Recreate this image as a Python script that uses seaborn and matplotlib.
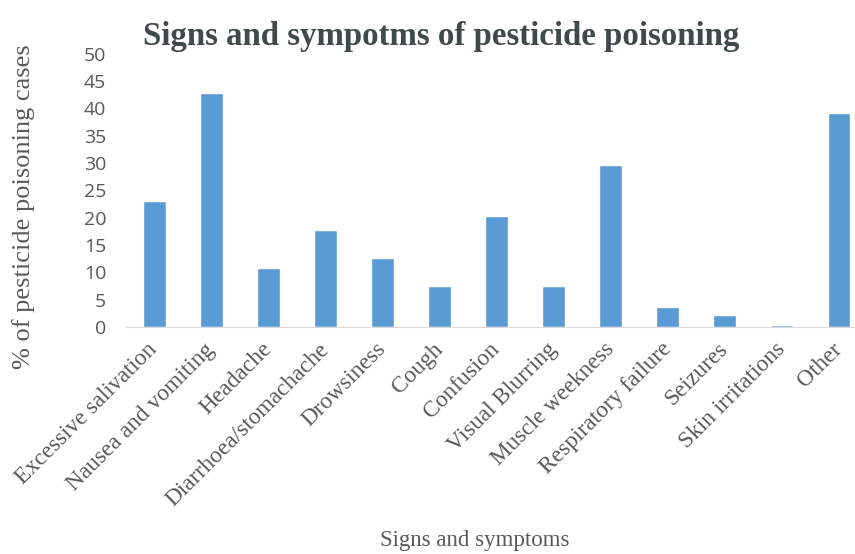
import matplotlib
matplotlib.use("Agg")
import matplotlib.pyplot as plt
import seaborn as sns
import pandas as pd

# Werte
symptoms = ["Excessive salivation", "Nausea and vomiting", "Headache",
            "Diarrhoea/stomachache", "Drowsiness", "Cough", "Confusion",
            "Visual Blurring", "Muscle weekness", "Respiratory failure",
            "Seizures", "Skin irritations", "Other"]
percent = [23.0, 42.8, 10.8, 17.8, 12.6, 7.4, 20.3, 7.4, 29.7, 3.7, 2.2, 0.4, 39.1]
yticks = [0, 5, 10, 15, 20, 25, 30, 35, 40, 45, 50]

df = pd.DataFrame({"symptom": symptoms, "percent": percent})

sns.set_style("white")
plt.rcParams["font.family"] = ["Liberation Serif", "DejaVu Serif"]

fig = plt.figure(figsize=(8.55, 5.54), dpi=100)
ax = fig.add_axes([0.147, 0.41, 0.853, 0.493])

sns.barplot(data=df, x="symptom", y="percent", color="#5B9BD5",
            width=0.4, saturation=1, ax=ax)

ax.set_ylim(0, 50)
ax.set_xlim(-0.5, 12.28)
ax.set_yticks(yticks)
ax.set_yticklabels([str(v) for v in yticks], family="Open Sans",
                   fontsize=14, color="#595959")
ax.tick_params(axis="y", length=0, pad=14)
ax.tick_params(axis="x", length=0, pad=14)
ax.set_xticks(range(len(symptoms)))
ax.set_xticklabels(symptoms, rotation=45, ha="right", va="center",
                   rotation_mode="anchor", fontsize=16.8, color="#595959")

for side in ["top", "right", "left"]:
    ax.spines[side].set_visible(False)
ax.spines["bottom"].set_color("#d9d9d9")

ax.set_xlabel("Signs and symptoms", fontsize=16.5, color="#595959")
ax.xaxis.set_label_coords(0.479, -0.744)
ax.set_ylabel("% of pesticide poisoning cases", fontsize=19, color="#595959")
ax.yaxis.set_label_coords(-0.125, 0.44)

fig.text(0.516, 0.935, "Signs and sympotms of pesticide poisoning",
         ha="center", va="center", fontsize=23.7, fontweight="bold", color="#404a4a")

fig.savefig("out.png", dpi=100)
